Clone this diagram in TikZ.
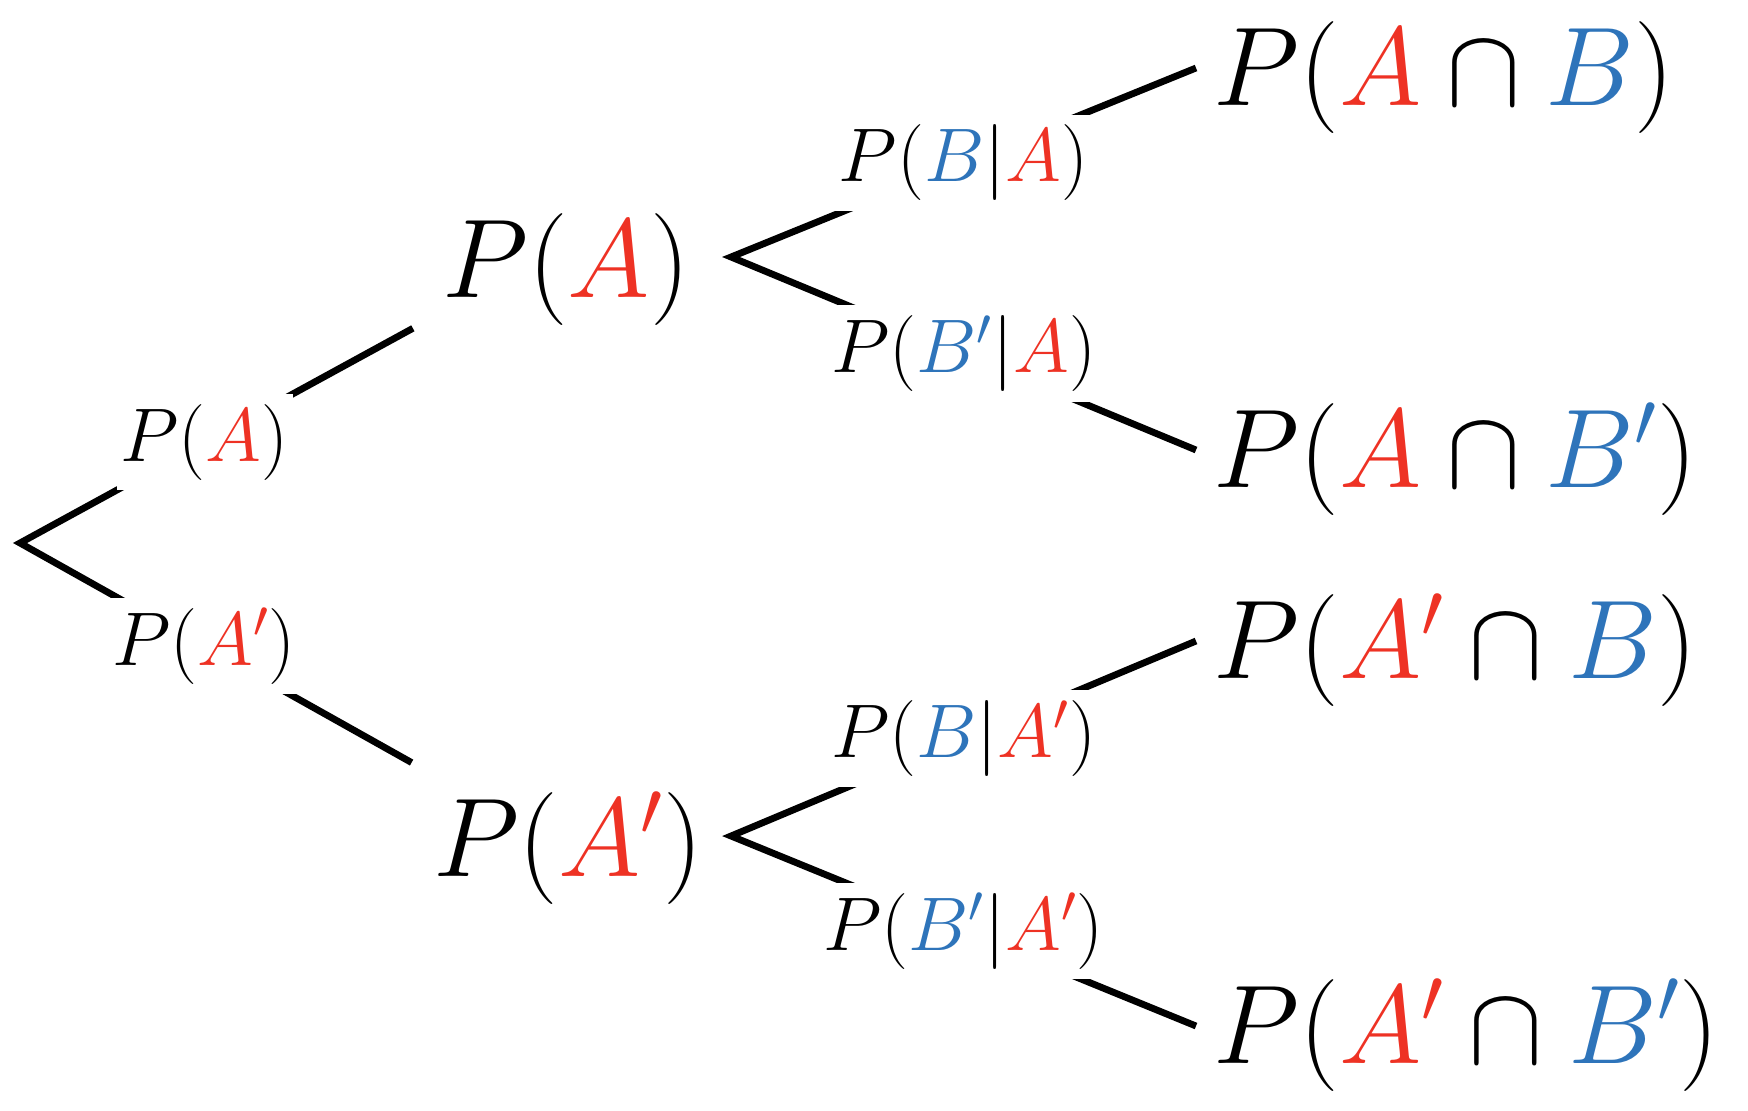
\documentclass[tikz,border=0pt]{standalone}
\usepackage{fix-cm}
\usepackage{amsmath}
\usepackage{xcolor}
\usetikzlibrary{positioning}
\definecolor{evred}{RGB}{238,50,36}
\definecolor{evblue}{RGB}{46,116,186}
\newcommand{\evA}[1][]{\textcolor{evred}{A#1}}
\newcommand{\evB}[1][]{\textcolor{evblue}{B#1}}
\begin{document}
\begin{tikzpicture}[x=0.5pt, y=-0.5pt, line width=3.4pt,
		big/.style={inner sep=0pt, font=\fontsize{56}{67}\selectfont},
		leaf/.style={big, anchor=west, inner xsep=7pt},
		prob/.style={fill=white, inner xsep=2pt, inner ysep=5pt, font=\fontsize{38}{46}\selectfont}]
					\useasboundingbox (0,0) rectangle (1748,1110);
					\coordinate (root) at (20,543);
					\coordinate (va) at (731,257);
					\coordinate (vb) at (731,836);
					\node[big] (a) at (566,269) {$P(\evA)$};
					\node[big] (a2) at (568,848) {$P(\evA['])$};
					\node[leaf] (ab) at (1196,77) {$P(\evA\cap\evB)$};
					\node[leaf] (ab2) at (1196,459) {$P(\evA\cap\evB['])$};
					\node[leaf] (a2b) at (1196,650) {$P(\evA[']\cap\evB)$};
					\node[leaf] (a2b2) at (1196,1035) {$P(\evA[']\cap\evB['])$};
					\draw ([xshift=-13pt]a.south west) -- node[prob, pos=0.53] {$P(\evA)$} (root)
						-- node[prob, pos=0.47] {$P(\evA['])$} ([xshift=-9pt,yshift=13pt]a2.north west);
					\draw ([yshift=4.5pt]ab.west) -- node[prob] {$P(\evB|\evA)$} (va)
						-- node[prob] {$P(\evB[']|\evA)$} ([yshift=4.5pt]ab2.west);
					\draw ([yshift=4.5pt]a2b.west) -- node[prob] {$P(\evB|\evA['])$} (vb)
						-- node[prob] {$P(\evB[']|\evA['])$} ([yshift=4.5pt]a2b2.west);
				\end{tikzpicture}
\end{document}
